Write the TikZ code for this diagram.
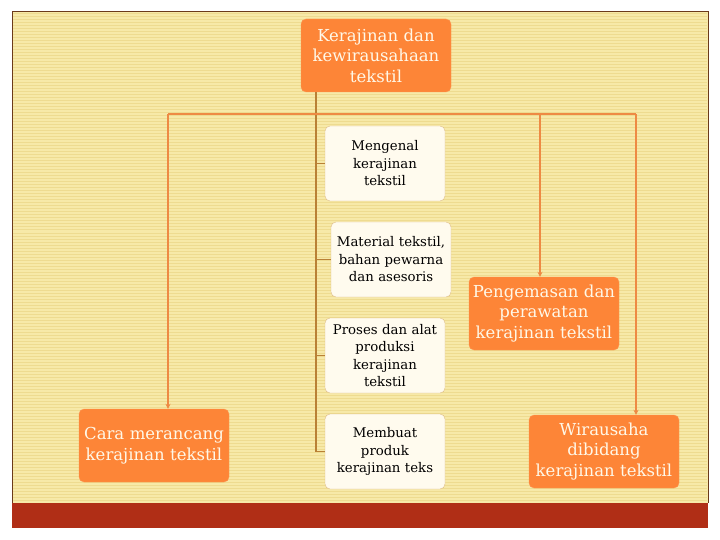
\documentclass[tikz,border=0pt]{standalone}
\usepackage{fontspec}
\setmainfont{DejaVu Serif}
\usetikzlibrary{arrows.meta,calc}
\definecolor{obox}{HTML}{FD8537}
\definecolor{oline}{HTML}{EE8A44}
\definecolor{tline}{HTML}{B98035}
\definecolor{panel}{HTML}{F7E9A8}
\definecolor{stripe}{HTML}{EEDB90}
\definecolor{pborder}{HTML}{6B3A1A}
\definecolor{barred}{HTML}{B02E16}
\definecolor{wfill}{HTML}{FFFBEE}
\definecolor{wborder}{HTML}{DDBB88}
\definecolor{otext}{HTML}{FFF8E8}
\tikzset{
  orangenode/.style={draw=obox!85!white, fill=obox, rounded corners=5pt, text=otext,
    minimum width=150pt, minimum height=73pt, align=center, text width=148pt, inner sep=0pt,
    font=\fontsize{16.5}{20.5}\selectfont},
  whitenode/.style={draw=wborder, fill=wfill, rounded corners=5pt, text=black,
    minimum width=120pt, minimum height=75pt, align=center, text width=120pt, inner sep=0pt,
    font=\fontsize{13.3}{17.5}\selectfont},
  treeline/.style={draw=tline, line width=1.5pt},
  orangeline/.style={draw=oline, line width=2pt},
  orangearrow/.style={orangeline, -{Stealth[length=5pt,width=5pt]}}
}
\begin{document}
\begin{tikzpicture}[x=1pt,y=-1pt]
\useasboundingbox (0,0) rectangle (720,540);
\fill[white] (0,0) rectangle (720,540);
\fill[panel] (12,12) rectangle (708,503);
\foreach \y in {14,17,...,501} \draw[stripe,line width=1pt] (13,\y) -- (707,\y);
\draw[pborder, line width=1pt] (12,503) -- (12,12) -- (708,12) -- (708,503);
\fill[barred] (12,503) rectangle (708,528);

% nodes
\node[orangenode] (top) at (376,55.5) {Kerajinan dan\\kewirausahaan\\tekstil};
\node[whitenode] (w1) at (385,163.5) {Mengenal\\kerajinan\\tekstil};
\node[whitenode] (w2) at (391,259.5) {Material tekstil,\\bahan pewarna\\dan asesoris};
\node[whitenode] (w3) at (385,355.5) {Proses dan alat\\produksi\\kerajinan\\tekstil};
\node[whitenode] (w4) at (385,451.5) {Membuat\\produk\\kerajinan teks};
\node[orangenode] (cara) at (154,445.5) {Cara merancang\\kerajinan tekstil};
\node[orangenode] (peng) at (544,313.5) {Pengemasan dan\\perawatan\\kerajinan tekstil};
\node[orangenode] (wira) at (604,451.5) {Wirausaha\\dibidang\\kerajinan tekstil};

% coordinates
\coordinate (trunk) at ($(top.south west)+(15pt,0)$);
\coordinate (trunkend) at (trunk |- w4.west);
\coordinate (hl) at (168,114);
\coordinate (hm) at (540,114);
\coordinate (hr) at (636,114);

% tree lines
\draw[treeline] (trunk) -- (trunkend);
\foreach \n in {w1,w2,w3,w4} \draw[treeline] (trunk |- \n.west) -- (\n.west);

% orange connectors
\draw[orangeline] (hl) -- (hr);
\draw[orangearrow] (hl) -- (hl |- cara.north);
\draw[orangearrow] (hm) -- (hm |- peng.north);
\draw[orangearrow] (hr) -- (hr |- wira.north);
\end{tikzpicture}
\end{document}
